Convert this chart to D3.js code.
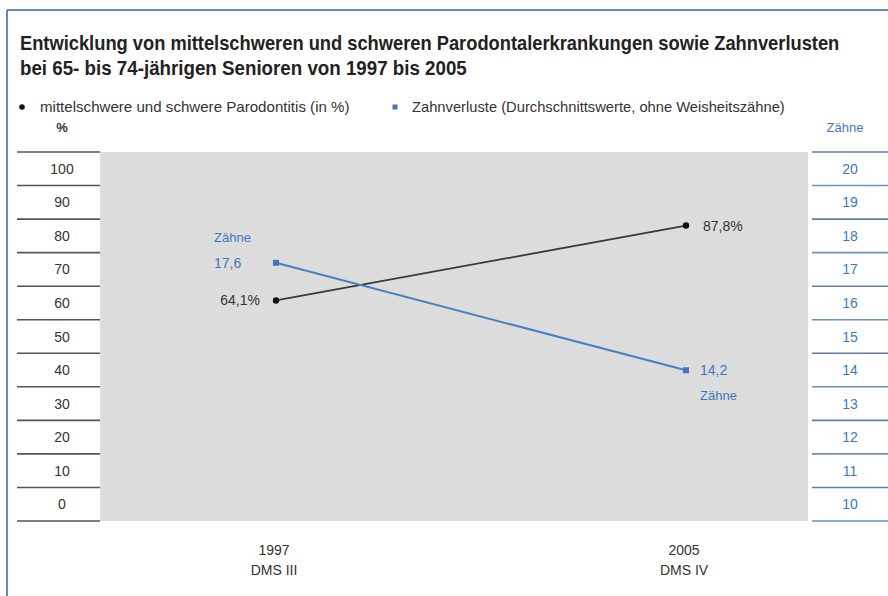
<!DOCTYPE html>
<html><head><meta charset="utf-8">
<script src="https://cdn.jsdelivr.net/npm/d3@7"></script>
<style>
html,body{margin:0;padding:0;background:#fff;}
svg{display:block;}
text{font-family:"Liberation Sans","DejaVu Sans",sans-serif;}
</style></head>
<body>
<svg id="chart" width="888" height="596"></svg>
<script>
const titleLines = ["Entwicklung von mittelschweren und schweren Parodontalerkrankungen sowie Zahnverlusten",
                    "bei 65- bis 74-jährigen Senioren von 1997 bis 2005"];
const legendLabels = ["mittelschwere und schwere Parodontitis (in %)", "Zahnverluste (Durchschnittswerte, ohne Weisheitszähne)"];
const years = ["1997", "2005"];
const studies = ["DMS III", "DMS IV"];
const parodontitis = [64.1, 87.8];
const zahnverluste = [17.6, 14.2];
const pctTicks = [100, 90, 80, 70, 60, 50, 40, 30, 20, 10, 0];
const teethTicks = [20, 19, 18, 17, 16, 15, 14, 13, 12, 11, 10];
const pctLabels = ["64,1%", "87,8%"];
const teethLabels = ["17,6", "14,2"];

(function(){
const svg = d3.select("#chart");
const blue = "#3f78bd";

// horizontally scale a text (anchored at its start) to a target width
function fitText(g, x0, y0, txt, size, weight, fill, width){
  const grp = g.append("g");
  const t = grp.append("text").attr("x",0).attr("y",0).text(txt)
    .attr("font-size",size).attr("font-weight",weight).attr("fill",fill);
  const w = t.node().getComputedTextLength();
  const s = width / w;
  grp.attr("transform",`translate(${x0},${y0}) scale(${s},1)`);
  return t;
}

// frame
svg.append("line").attr("x1",7).attr("x2",888).attr("y1",10).attr("y2",10).attr("stroke","#2a64a8").attr("stroke-width",1.5);
svg.append("line").attr("x1",7).attr("x2",7).attr("y1",10).attr("y2",596).attr("stroke","#2a64a8").attr("stroke-width",1.5);

// title
const tW = [820, 447];
titleLines.forEach((t,i)=>{
  fitText(svg, 20, 50+i*25, t, 20, "bold", "#222", tW[i]);
});

// legend
svg.append("circle").attr("cx",22).attr("cy",107).attr("r",2.8).attr("fill","#111");
fitText(svg, 40, 111.5, legendLabels[0], 14, "normal", "#333", 310);
svg.append("rect").attr("x",392.5).attr("y",104.5).attr("width",5).attr("height",5).attr("fill",blue);
fitText(svg, 412, 111.5, legendLabels[1], 14, "normal", "#333", 373);

// axis headers
svg.append("text").attr("x",62).attr("y",132).attr("text-anchor","middle").text("%").attr("font-size",13).attr("font-weight","bold").attr("fill","#333");
svg.append("text").attr("x",845).attr("y",132).attr("text-anchor","middle").text("Zähne").attr("font-size",13).attr("fill",blue);

// scales
const plotTop = 152, plotBottom = 521;
const rowPct = d3.scaleBand().domain(pctTicks).range([plotTop,plotBottom]).paddingInner(0);
const rowTeeth = d3.scaleBand().domain(teethTicks).range([plotTop,plotBottom]).paddingInner(0);
const yPct = d3.scaleLinear().domain([0,100]).range([503,187]);
const yTeeth = d3.scaleLinear().domain([10,20]).range([503,187]);
const x = d3.scalePoint().domain(years).range([276,686]);

// plot background
svg.append("rect").attr("x",100).attr("y",plotTop).attr("width",708).attr("height",plotBottom-plotTop).attr("fill","#dddddd");

// left axis rows
const gl = svg.append("g");
gl.selectAll("line").data(pctTicks.concat(["end"])).join("line")
  .attr("x1",17).attr("x2",100)
  .attr("y1",d=> d==="end" ? plotBottom : rowPct(d)).attr("y2",d=> d==="end" ? plotBottom : rowPct(d))
  .attr("stroke","#555").attr("stroke-width",1.6);
gl.selectAll("text").data(pctTicks).join("text")
  .attr("x",62).attr("y",d=>rowPct(d)+rowPct.bandwidth()/2+5)
  .attr("text-anchor","middle").attr("font-size",14).attr("fill","#333").text(d=>d);

// right axis rows
const gr = svg.append("g");
gr.selectAll("line").data(teethTicks.concat(["end"])).join("line")
  .attr("x1",812).attr("x2",888)
  .attr("y1",d=> d==="end" ? plotBottom : rowTeeth(d)).attr("y2",d=> d==="end" ? plotBottom : rowTeeth(d))
  .attr("stroke",(d,i)=> i%2===0 ? "#5f7ea3" : "#6f90bb").attr("stroke-width",1.6);
gr.selectAll("text").data(teethTicks).join("text")
  .attr("x",850).attr("y",d=>rowTeeth(d)+rowTeeth.bandwidth()/2+5)
  .attr("text-anchor","middle").attr("font-size",14).attr("fill",blue).text(d=>d);

// x labels
years.forEach((yr,i)=>{
  svg.append("text").attr("x",x(yr)-2).attr("y",555).attr("text-anchor","middle").attr("font-size",14).attr("fill","#333").text(yr);
  svg.append("text").attr("x",x(yr)-2).attr("y",575).attr("text-anchor","middle").attr("font-size",14).attr("fill","#333").text(studies[i]);
});

// lines
const pctData = years.map((y,i)=>({y, v:parodontitis[i]}));
const teethData = years.map((y,i)=>({y, v:zahnverluste[i]}));
svg.append("path").datum(pctData)
  .attr("d", d3.line().x(d=>x(d.y)).y(d=>yPct(d.v)))
  .attr("fill","none").attr("stroke","#3a3a3a").attr("stroke-width",1.8);
svg.append("path").datum(teethData)
  .attr("d", d3.line().x(d=>x(d.y)).y(d=>yTeeth(d.v)))
  .attr("fill","none").attr("stroke","#4a80c2").attr("stroke-width",2);

// markers
svg.selectAll(".dot").data(pctData).join("circle").attr("class","dot")
  .attr("cx",d=>x(d.y)).attr("cy",d=>yPct(d.v)).attr("r",3.2).attr("fill","#111");
svg.selectAll(".sq").data(teethData).join("rect").attr("class","sq")
  .attr("x",d=>x(d.y)-3).attr("y",d=>yTeeth(d.v)-3).attr("width",6).attr("height",6).attr("fill",blue);

// value labels
svg.append("text").attr("x",x(years[0])-16).attr("y",yPct(parodontitis[0])+5).attr("text-anchor","end")
  .attr("font-size",14).attr("fill","#333").text(pctLabels[0]);
svg.append("text").attr("x",x(years[1])+17).attr("y",yPct(parodontitis[1])+5)
  .attr("font-size",14).attr("fill","#333").text(pctLabels[1]);
svg.append("text").attr("x",x(years[0])-62).attr("y",yTeeth(zahnverluste[0])+5)
  .attr("font-size",14).attr("fill",blue).text(teethLabels[0]);
svg.append("text").attr("x",x(years[0])-62).attr("y",yTeeth(zahnverluste[0])-21)
  .attr("font-size",13).attr("fill",blue).text("Zähne");
svg.append("text").attr("x",x(years[1])+14).attr("y",yTeeth(zahnverluste[1])+5)
  .attr("font-size",14).attr("fill",blue).text(teethLabels[1]);
svg.append("text").attr("x",x(years[1])+14).attr("y",yTeeth(zahnverluste[1])+30)
  .attr("font-size",13).attr("fill",blue).text("Zähne");
})();
</script>
</body></html>
